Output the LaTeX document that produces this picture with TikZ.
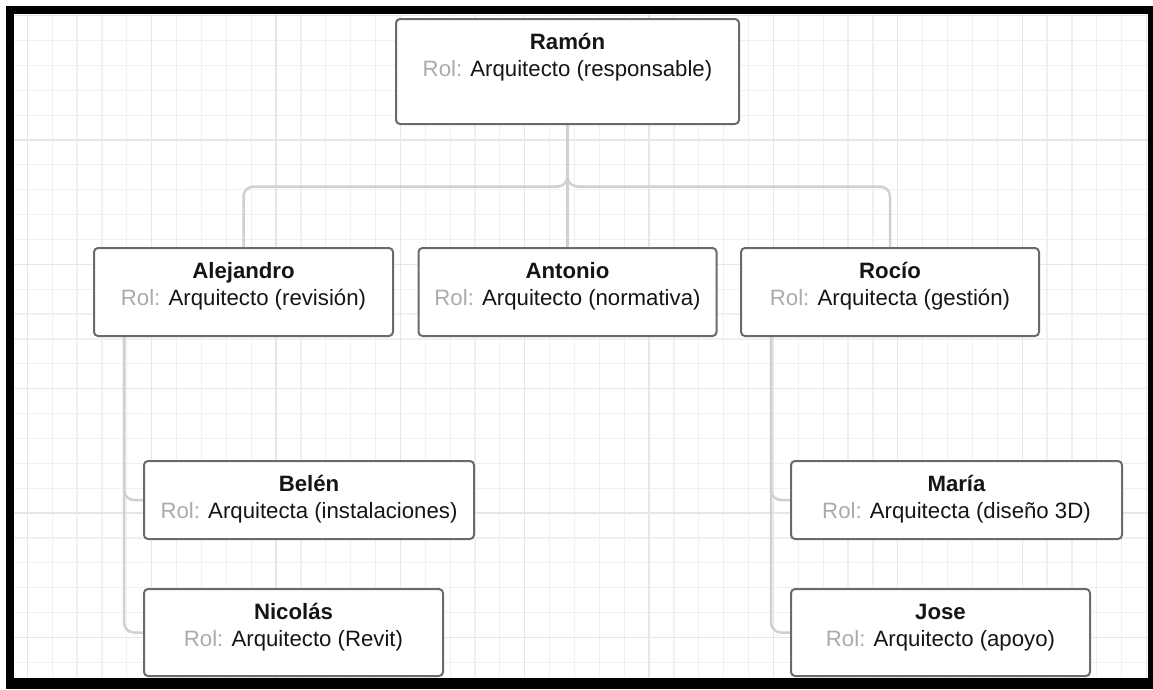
\documentclass[tikz,border=0pt]{standalone}
\usepackage{fontspec}
\setmainfont{Liberation Sans}
\definecolor{gridminor}{HTML}{F0F0F0}
\definecolor{gridmajor}{HTML}{E6E6E6}
\definecolor{boxline}{HTML}{6A6A6A}
\definecolor{linkline}{HTML}{D0D0D0}
\definecolor{rolgray}{HTML}{ABABAB}
\definecolor{ink}{HTML}{151515}
\pgfdeclarelayer{gridlayer}
\pgfdeclarelayer{linklayer}
\pgfsetlayers{gridlayer,linklayer,main}
\begin{document}
\begin{tikzpicture}[x=1pt,y=-1pt,
  personbox/.style={draw=boxline, line width=2pt, fill=white, rounded corners=4pt, inner sep=0pt},
  titletext/.style={anchor=base, font=\fontsize{22.2}{27}\selectfont\bfseries, text=ink, inner sep=0pt},
  roletext/.style={anchor=base, font=\fontsize{22.2}{27}\selectfont, text=ink, inner sep=0pt},
  link/.style={draw=linkline, line width=2.5pt, rounded corners=10pt},
  minorline/.style={draw=gridminor, line width=1.2pt},
  majorline/.style={draw=gridmajor, line width=1.3pt}]
\useasboundingbox (0,0) rectangle (1153,689);
\begin{pgfonlayer}{gridlayer}
  \fill[white] (0,0) rectangle (1153,689);
  \begin{scope}
    \clip (14,14) rectangle (1148,678);
    \foreach \i in {-6,...,40} {\draw[minorline] ({151.7+24.87*\i},14) -- ({151.7+24.87*\i},678);}
    \foreach \j in {-6,...,23} {\draw[minorline] (14,{140+24.87*\j}) -- (1148,{140+24.87*\j});}
    \foreach \i in {-1,...,8} {\draw[majorline] ({151.7+124.35*\i},14) -- ({151.7+124.35*\i},678);}
    \foreach \j in {-1,...,5} {\draw[majorline] (14,{140+124.35*\j}) -- (1148,{140+124.35*\j});}
  \end{scope}
\end{pgfonlayer}

% boxes
\node[personbox, minimum width=343pt, minimum height=105pt] (ramon) at (567.5,71.5) {};
\node[personbox, minimum width=299pt, minimum height=88pt] (alejandro) at (243.5,292) {};
\node[personbox, minimum width=298pt, minimum height=88pt] (antonio) at (567.5,292) {};
\node[personbox, minimum width=298pt, minimum height=88pt] (rocio) at (890,292) {};
\node[personbox, minimum width=330pt, minimum height=78pt] (belen) at (309,500) {};
\node[personbox, minimum width=299pt, minimum height=87pt] (nicolas) at (293.5,632.5) {};
\node[personbox, minimum width=331pt, minimum height=78pt] (maria) at (956.5,500) {};
\node[personbox, minimum width=299pt, minimum height=87pt] (jose) at (940.5,632.5) {};

% texts
\node[titletext] (ramonT) at ([yshift=-31pt]ramon.north) {Ramón};
\node[roletext] (ramonR) at ([yshift=-58.3pt]ramon.north) {\textcolor{rolgray}{Rol:} Arquitecto (responsable)};
\node[titletext] (alejandroT) at ([yshift=-31pt]alejandro.north) {Alejandro};
\node[roletext] (alejandroR) at ([yshift=-58.3pt]alejandro.north) {\textcolor{rolgray}{Rol:} Arquitecto (revisión)};
\node[titletext] (antonioT) at ([yshift=-31pt]antonio.north) {Antonio};
\node[roletext] (antonioR) at ([yshift=-58.3pt]antonio.north) {\textcolor{rolgray}{Rol:} Arquitecto (normativa)};
\node[titletext] (rocioT) at ([yshift=-31pt]rocio.north) {Rocío};
\node[roletext] (rocioR) at ([yshift=-58.3pt]rocio.north) {\textcolor{rolgray}{Rol:} Arquitecta (gestión)};
\node[titletext] (belenT) at ([yshift=-31pt]belen.north) {Belén};
\node[roletext] (belenR) at ([yshift=-58.3pt]belen.north) {\textcolor{rolgray}{Rol:} Arquitecta (instalaciones)};
\node[titletext] (nicolasT) at ([yshift=-31pt]nicolas.north) {Nicolás};
\node[roletext] (nicolasR) at ([yshift=-58.3pt]nicolas.north) {\textcolor{rolgray}{Rol:} Arquitecto (Revit)};
\node[titletext] (mariaT) at ([yshift=-31pt]maria.north) {María};
\node[roletext] (mariaR) at ([yshift=-58.3pt]maria.north) {\textcolor{rolgray}{Rol:} Arquitecta (diseño 3D)};
\node[titletext] (joseT) at ([yshift=-31pt]jose.north) {Jose};
\node[roletext] (joseR) at ([yshift=-58.3pt]jose.north) {\textcolor{rolgray}{Rol:} Arquitecto (apoyo)};

% connectors
\coordinate (hub) at (567.5,186.5);
\coordinate (leftdrop) at ([xshift=31pt]alejandro.south west);
\coordinate (rightdrop) at ([xshift=31pt]rocio.south west);
\begin{pgfonlayer}{linklayer}
  \draw[link] (ramon.south) -- (hub) -| (alejandro.north);
  \draw[link] (ramon.south) -- (hub) -| (rocio.north);
  \draw[link] (ramon.south) -- (antonio.north);
  \draw[link] (leftdrop) |- (belen.west);
  \draw[link] (leftdrop) |- (nicolas.west);
  \draw[link] (rightdrop) |- (maria.west);
  \draw[link] (rightdrop) |- (jose.west);
\end{pgfonlayer}

% frame
\fill[black] (6,6) rectangle (1153,14);
\fill[black] (6,6) rectangle (14,689);
\fill[black] (1148,6) rectangle (1153,689);
\fill[black] (6,678) rectangle (1153,689);
\end{tikzpicture}
\end{document}
